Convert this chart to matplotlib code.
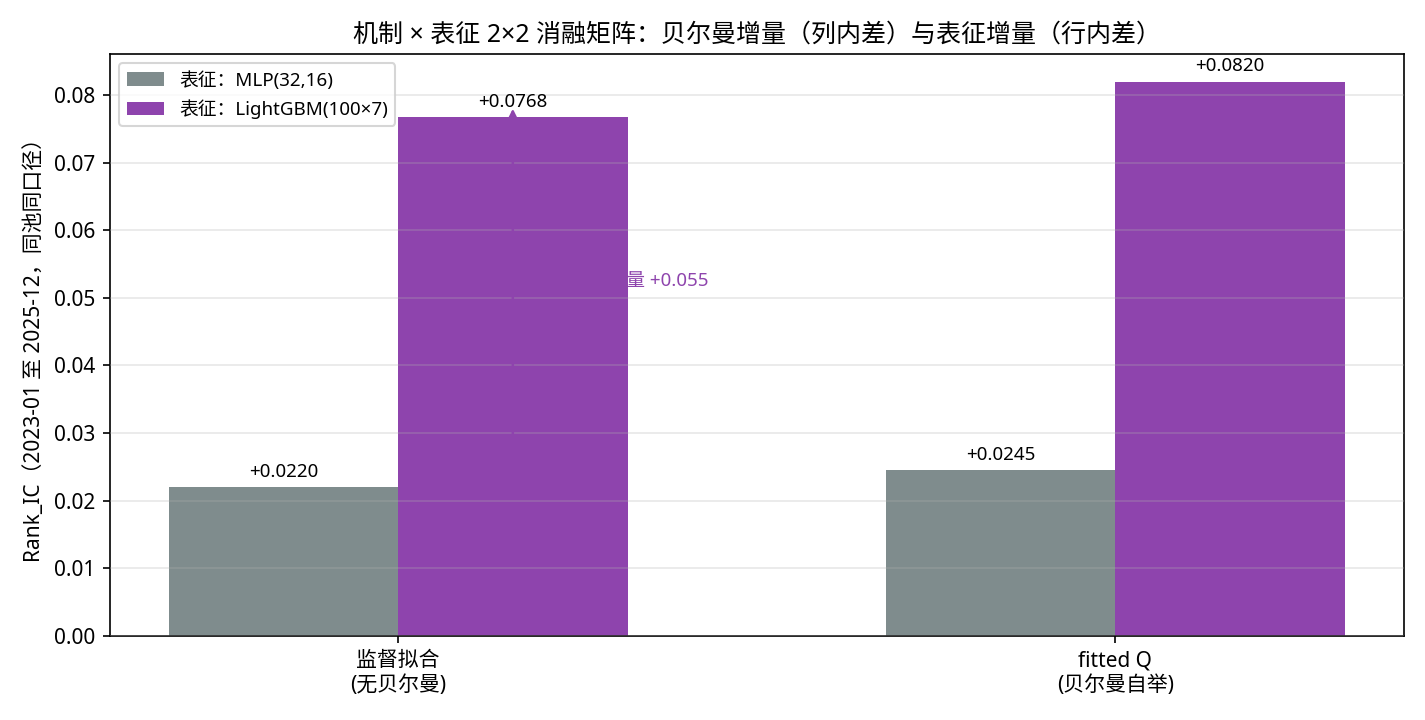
import matplotlib
matplotlib.use('Agg')
import matplotlib.pyplot as plt
import numpy as np

plt.rcParams['font.family'] = ['Noto Sans', 'Noto Sans CJK SC', 'DejaVu Sans']
plt.rcParams['axes.unicode_minus'] = False

mechanisms = ['监督拟合\n(无贝尔曼)', 'fitted Q\n(贝尔曼自举)']
series_names = ['表征：MLP(32,16)', '表征：LightGBM(100×7)']
mlp_ic = [0.0220, 0.0245]
lgbm_ic = [0.0768, 0.0820]
colors = ['#7f8c8d', '#8e44ad']


def draw(ax):
    x = np.arange(len(mechanisms))
    width = 0.32
    b1 = ax.bar(x - width / 2, mlp_ic, width, color=colors[0], label=series_names[0], zorder=2)
    b2 = ax.bar(x + width / 2, lgbm_ic, width, color=colors[1], label=series_names[1], zorder=2)
    for bars, vals in ((b1, mlp_ic), (b2, lgbm_ic)):
        for rect, v in zip(bars, vals):
            ax.annotate(f'+{v:.4f}', (rect.get_x() + rect.get_width() / 2, v),
                        xytext=(0, 3), textcoords='offset points',
                        ha='center', va='bottom', fontsize=9, zorder=5)

    # representation gain arrow for the first mechanism
    ax.annotate('', xy=(x[0] + width / 2, lgbm_ic[0] + 0.0012), xytext=(x[0] + width / 2, mlp_ic[0]),
                arrowprops=dict(arrowstyle='-|>', color=colors[1], lw=1.2, shrinkA=0, shrinkB=0,
                                mutation_scale=10), zorder=4)
    gain = lgbm_ic[0] - mlp_ic[0]
    ax.text(x[0] + width / 2 + 0.08, 0.0524,
            f'表征增量 +{gain:.3f}', color=colors[1], fontsize=9, va='center', zorder=1)

    ax.set_xticks(x)
    ax.set_xticklabels(mechanisms, fontsize=10)
    ax.tick_params(axis='y', labelsize=10)
    ax.set_ylabel('Rank_IC（2023-01 至 2025-12，同池同口径）', fontsize=10)
    ax.set_title('机制 × 表征 2×2 消融矩阵：贝尔曼增量（列内差）与表征增量（行内差）', fontsize=12)
    ax.grid(axis='y', alpha=0.3, zorder=3)
    ax.set_axisbelow(False)
    ax.legend(loc='upper left', fontsize=9)


fig, ax = plt.subplots(figsize=(9.5, 4.8), dpi=150)
fig.subplots_adjust(left=0.077, right=0.985, top=0.925, bottom=0.117)
draw(ax)
fig.savefig('out.png', dpi=150)
